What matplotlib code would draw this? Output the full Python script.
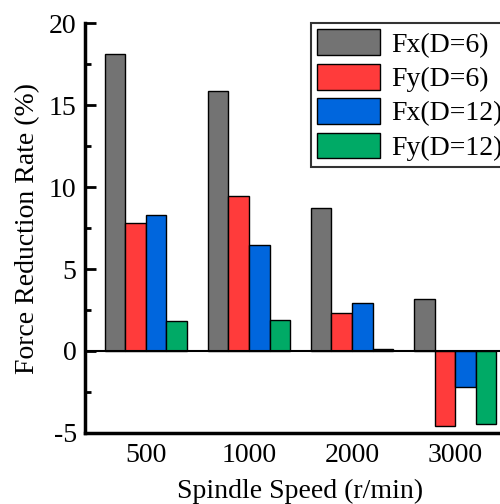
import matplotlib.pyplot as plt
import numpy as np

plt.rcParams['font.family'] = 'serif'
plt.rcParams['font.serif'] = ['Liberation Serif', 'DejaVu Serif']
plt.rcParams['axes.unicode_minus'] = False

speeds = ['500', '1000', '2000', '3000']
series = ['Fx(D=6)', 'Fy(D=6)', 'Fx(D=12)', 'Fy(D=12)']
fx_d6 = [18.1, 15.85, 8.72, 3.17]
fy_d6 = [7.82, 9.47, 2.34, -4.6]
fx_d12 = [8.29, 6.46, 2.95, -2.18]
fy_d12 = [1.83, 1.9, 0.12, -4.45]
colors = ['#737373', '#ff3b3b', '#0066dd', '#00aa66']

fig = plt.figure(figsize=(5.0, 5.04), dpi=100)
ax = fig.add_axes([0.17, 0.141, 0.862, 0.813])

x = np.arange(len(speeds))
w = 0.2
for k, (vals, lab, c) in enumerate(zip([fx_d6, fy_d6, fx_d12, fy_d12], series, colors)):
    ax.bar(x + (k - 1.5) * w, vals, w, color=c, edgecolor='black', linewidth=1.0,
           label=lab)

ax.axhline(0, color='black', linewidth=1.5, zorder=3)

ax.set_xlim(-0.59, 3.59)
ax.set_ylim(-5, 20)
ax.set_xticks(x)
ax.set_xticklabels(speeds)
ax.set_yticks([-5, 0, 5, 10, 15, 20])
ax.set_yticks(np.arange(-2.5, 20, 5), minor=True)
ax.tick_params(axis='x', length=0, labelsize=20, pad=7)
ax.tick_params(axis='y', which='major', direction='in', length=8, width=2,
               labelsize=20, pad=6)
ax.tick_params(axis='y', which='minor', direction='in', length=4, width=2)

for s in ['top', 'right']:
    ax.spines[s].set_visible(False)
for s in ['left', 'bottom']:
    ax.spines[s].set_linewidth(2.5)

ax.set_xlabel('Spindle Speed (r/min)', fontsize=20, labelpad=8)
ax.set_ylabel('Force Reduction Rate (%)', fontsize=20, labelpad=6)

leg = ax.legend(loc='upper left', bbox_to_anchor=(0.525, 1.0), fontsize=20,
                frameon=True, fancybox=False, handlelength=2.27, handleheight=1.05,
                labelspacing=0.22, borderpad=0.22, handletextpad=0.4,
                borderaxespad=0)
leg.get_frame().set_edgecolor('black')
leg.get_frame().set_linewidth(1.5)

fig.savefig('out.png', dpi=100)
